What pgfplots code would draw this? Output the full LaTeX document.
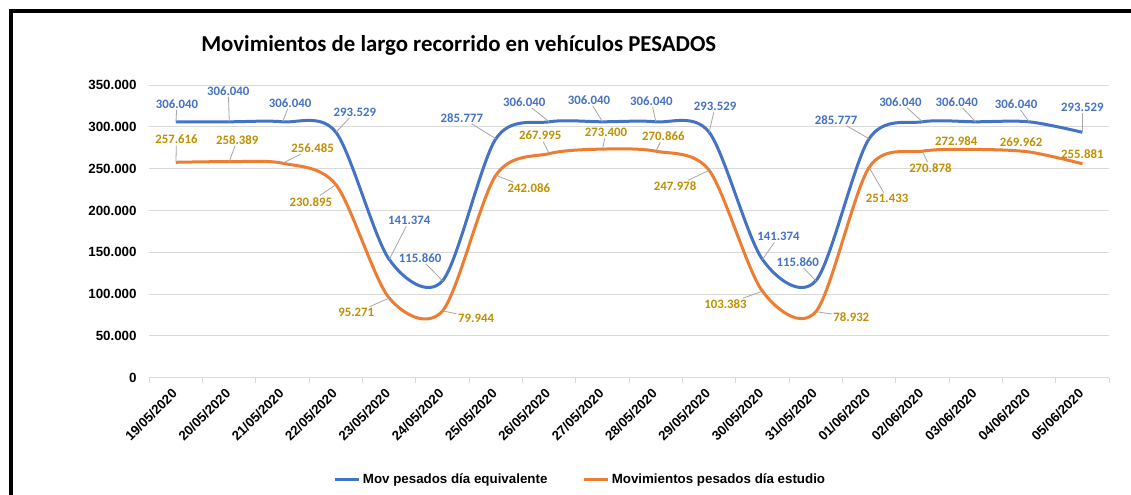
\documentclass[border=0pt]{standalone}
\usepackage{pgfplots}
\pgfplotsset{compat=1.18}
\usepackage{pgfplotstable}
\usepackage{fontspec}
\setmainfont{Liberation Sans}
\newfontfamily\carlito{Carlito}
\definecolor{bluel}{HTML}{4472C4}
\definecolor{orangel}{HTML}{ED7D31}
\definecolor{goldlab}{HTML}{BF9000}
\definecolor{gridc}{HTML}{D9D9D9}
\definecolor{leadc}{HTML}{A6A6A6}

% dx, dy: label offset from the point in px (dy positive = up); lead: leader line shown
\pgfplotstableread{
x y dx dy lead
0 306040 1 18 1
1 306040 -1 31 1
2 306040 7.5 19 1
3 293529 19 20 1
4 141374 20 39 1
5 115860 -22.5 23 1
6 285777 -34 21 1
7 306040 -25 20 1
8 306040 -13.5 22 1
9 306040 -4.5 21 1
10 293529 6 26 1
11 141374 16 23 1
12 115860 -18 19 1
13 285777 -33 19 1
14 306040 -22 20 1
15 306040 -19 20 1
16 306040 -13 18 1
17 293529 0 25 1
}\tableblue

\pgfplotstableread{
x y dx dy lead
0 257616 0.5 23 1
1 258389 8 22 1
2 256485 30 15 1
3 230895 -25 -17 1
4 95271 -33 -14.5 1
5 79944 33.5 -7 1
6 242086 33 -13 1
7 267995 -9 18 1
8 273400 3.5 16.5 1
9 270866 7.5 15 1
10 247978 -34 -16 1
11 103383 -37 -13 1
12 78932 35.5 -5 1
13 251433 18 -31 1
14 270878 8 -17 1
15 272984 -19.5 8 0
16 269962 -8 10 0
17 255881 0 10 0
}\tableorange

\pgfplotsset{
  datalabels/.style={
    draw=none, mark=none, forget plot,
    point meta=y,
    nodes near coords={},
    visualization depends on={\thisrow{dx} \as \dx},
    visualization depends on={\thisrow{dy} \as \dy},
    visualization depends on={\thisrow{lead} \as \lead},
    every node near coord/.append style={inner sep=0pt, outer sep=0pt, minimum size=0pt,
      pin={[anchor=center, pin distance=0pt, xshift=\dx*0.75pt, yshift=\dy*0.75pt,
            inner sep=1pt, text=#1, font=\carlito\bfseries\fontsize{9.6}{11}\selectfont,
            pin edge={draw=leadc, line width=0.6pt, draw opacity=\lead}]90:{\pgfmathprintnumber{\pgfplotspointmeta}}}},
  },
}

\begin{document}
\begin{tikzpicture}[x=0.75pt, y=-0.75pt]
\useasboundingbox (0,0) rectangle (1131,495);
\fill[white] (0,0) rectangle (1131,495);
\draw[line width=2.6pt, black] (11,520) -- (11,11) -- (1160,11);
\node[anchor=base west, inner sep=0pt, font=\carlito\bfseries\fontsize{17.1}{20}\selectfont] at (201,52) {Movimientos de largo recorrido en vehículos PESADOS};
\begin{axis}[
  at={(111.975pt,-283.275pt)}, anchor=south west,
  scale only axis, width=719.8pt, height=219.5pt,
  xmin=-0.5, xmax=17.5, ymin=0, ymax=350000,
  clip=false,
  axis x line*=bottom, axis y line*=left,
  x axis line style={draw=gridc, line width=0.75pt, -},
  y axis line style={draw=none},
  ymajorgrids, grid style={draw=gridc, line width=0.75pt},
  ytick={0,50000,...,350000},
  ytick style={draw=none},
  xtick={0,...,17},
  xticklabels={19/05/2020,20/05/2020,21/05/2020,22/05/2020,23/05/2020,24/05/2020,25/05/2020,26/05/2020,27/05/2020,28/05/2020,29/05/2020,30/05/2020,31/05/2020,01/06/2020,02/06/2020,03/06/2020,04/06/2020,05/06/2020},
  major x tick style={draw=none},
  minor xtick={-0.5,0.5,...,17.5},
  minor x tick style={draw=gridc, line width=0.75pt},
  tick align=outside, minor tick length=4pt,
  scaled y ticks=false,
  /pgf/number format/.cd, fixed, precision=0, 1000 sep={.}, assume math mode=true,
  /pgfplots/.cd,
  yticklabel style={font=\bfseries\fontsize{10}{12}\selectfont, xshift=-1.75pt},
  xticklabel style={font=\bfseries\fontsize{10}{12}\selectfont, xshift=1.5pt, yshift=-3.5pt, rotate=45, anchor=east},
  legend columns=2,
  legend style={at={(0.1914,-0.3495)}, anchor=west, draw=none, fill=none, inner sep=0pt,
    font=\bfseries\fontsize{10}{12}\selectfont,
    /tikz/every even column/.append style={column sep=24pt}},
  legend image code/.code={\draw[#1, line width=2.25pt] (0pt,0pt) -- (18pt,0pt);},
]
\addplot[bluel, line width=2.25pt, smooth] table[x=x, y=y] {\tableblue};
\addlegendentry{Mov pesados día equivalente}
\addplot[orangel, line width=2.25pt, smooth] table[x=x, y=y] {\tableorange};
\addlegendentry{Movimientos pesados día estudio}
\addplot[datalabels=bluel] table[x=x, y=y] {\tableblue};
\addplot[datalabels=goldlab] table[x=x, y=y] {\tableorange};
\end{axis}
\end{tikzpicture}
\end{document}
